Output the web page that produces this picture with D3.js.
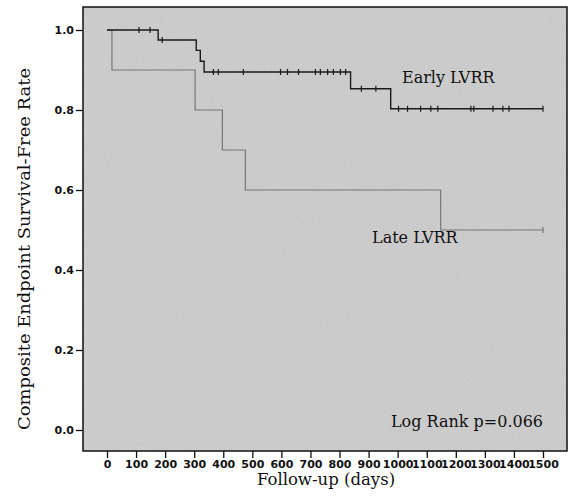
<!DOCTYPE html>
<html>
<head>
<meta charset="utf-8">
<script src="https://cdn.jsdelivr.net/npm/d3@7"></script>
<style>
  body { margin: 0; background: #fff; }
  .tick text { font-family: "DejaVu Sans", sans-serif; font-weight: bold; font-size: 11px; fill: #111; }
  .lbl { font-family: "DejaVu Serif", serif; fill: #111; }
</style>
</head>
<body>
<div id="chart"></div>
<script>
// Kaplan-Meier, composite endpoint, early vs late LVRR
const earlyTimes = [0, 176, 307, 321, 334, 838, 976, 1500];
const earlySurv = [1, 0.975, 0.949, 0.922, 0.895, 0.853, 0.803, 0.803];
const earlyCensored = [110, 148, 190, 366, 383, 469, 597, 621, 659, 717, 734, 759, 779, 803, 821,
  875, 925, 1003, 1034, 1079, 1114, 1138, 1252, 1262, 1328, 1362, 1383, 1500];

const lateTimes = [0, 17, 303, 397, 476, 1148, 1500];
const lateSurv = [1, 0.9, 0.8, 0.7, 0.6, 0.5, 0.5];
const lateCensored = [1500];

const xTicks = d3.range(0, 1501, 100);
const yTicks = [0, 0.2, 0.4, 0.6, 0.8, 1.0];

const W = 569, H = 497;
const svg = d3.select("#chart").append("svg").attr("width", W).attr("height", H);

const x = d3.scaleLinear().domain([0, 1500]).range([107, 543]);
const y = d3.scaleLinear().domain([0, 1]).range([430, 30]);

// grainy grey panel, like the scanned figure
const defs = svg.append("defs");
const f = defs.append("filter").attr("id", "grain").attr("x", 0).attr("y", 0).attr("width", 1).attr("height", 1);
f.append("feTurbulence").attr("type", "fractalNoise").attr("baseFrequency", 1.5).attr("numOctaves", 1).attr("seed", 3).attr("result", "n");
f.append("feColorMatrix").attr("in", "n").attr("type", "matrix")
  .attr("values", "0 0 0 0 0.55  0 0 0 0 0.55  0 0 0 0 0.55  1.6 0 0 0 -0.6").attr("result", "g");
f.append("feComposite").attr("in", "g").attr("in2", "SourceGraphic").attr("operator", "in").attr("result", "gm");
f.append("feMerge").selectAll("feMergeNode").data(["SourceGraphic", "gm"]).join("feMergeNode").attr("in", d => d);

svg.append("rect").attr("x", 83).attr("y", 7).attr("width", 484).attr("height", 444)
  .attr("fill", "#cdcdcd").attr("filter", "url(#grain)");
svg.append("rect").attr("x", 83).attr("y", 7).attr("width", 484).attr("height", 444)
  .attr("fill", "none").attr("stroke", "#111").attr("stroke-width", 1.5);

// axes
const yAxis = svg.append("g").attr("transform", "translate(83,0)")
  .call(d3.axisLeft(y).tickValues(yTicks).tickFormat(d3.format(".1f")).tickSize(7).tickPadding(2));
yAxis.select(".domain").remove();
yAxis.selectAll("line").attr("stroke", "#111").attr("stroke-width", 1.3);

const xAxis = svg.append("g").attr("transform", "translate(0,451)")
  .call(d3.axisBottom(x).tickValues(xTicks).tickFormat(d3.format("d")).tickSize(7).tickPadding(2));
xAxis.select(".domain").remove();
xAxis.selectAll("line").attr("stroke", "#111").attr("stroke-width", 1.3);

// survival curves
const step = d3.line().curve(d3.curveStepAfter).x(d => x(d[0])).y(d => y(d[1]));
const lateData = lateTimes.map((t, i) => [t, lateSurv[i]]);
const earlyData = earlyTimes.map((t, i) => [t, earlySurv[i]]);

function survAt(times, surv, t) {
  let s = surv[0];
  for (let i = 0; i < times.length; i++) if (times[i] <= t) s = surv[i];
  return s;
}

svg.append("path").datum(lateData).attr("d", step)
  .attr("fill", "none").attr("stroke", "#777").attr("stroke-width", 1.2);
svg.append("g").selectAll("line").data(lateCensored).join("line")
  .attr("x1", d => x(d)).attr("x2", d => x(d))
  .attr("y1", d => y(survAt(lateTimes, lateSurv, d)) - 3)
  .attr("y2", d => y(survAt(lateTimes, lateSurv, d)) + 3)
  .attr("stroke", "#777").attr("stroke-width", 1.2);

svg.append("path").datum(earlyData).attr("d", step)
  .attr("fill", "none").attr("stroke", "#1a1a1a").attr("stroke-width", 1.4);
svg.append("g").selectAll("line").data(earlyCensored).join("line")
  .attr("x1", d => x(d)).attr("x2", d => x(d))
  .attr("y1", d => y(survAt(earlyTimes, earlySurv, d)) - 3)
  .attr("y2", d => y(survAt(earlyTimes, earlySurv, d)) + 3)
  .attr("stroke", "#1a1a1a").attr("stroke-width", 1.2);

// labels
svg.append("text").attr("class", "lbl").attr("x", 402).attr("y", 83)
  .attr("font-size", 16).text("Early LVRR");
svg.append("text").attr("class", "lbl").attr("x", 372).attr("y", 243)
  .attr("font-size", 16).text("Late LVRR");
svg.append("text").attr("class", "lbl").attr("x", 543).attr("y", 427)
  .attr("text-anchor", "end").attr("font-size", 16).text("Log Rank p=0.066");

svg.append("text").attr("class", "lbl").attr("x", 326).attr("y", 485)
  .attr("text-anchor", "middle").attr("font-size", 16.5).text("Follow-up (days)");
svg.append("text").attr("class", "lbl")
  .attr("transform", "translate(30,249) rotate(-90)")
  .attr("text-anchor", "middle").attr("font-size", 17)
  .attr("textLength", 362).attr("lengthAdjust", "spacingAndGlyphs")
  .text("Composite Endpoint Survival-Free Rate");
</script>
</body>
</html>
